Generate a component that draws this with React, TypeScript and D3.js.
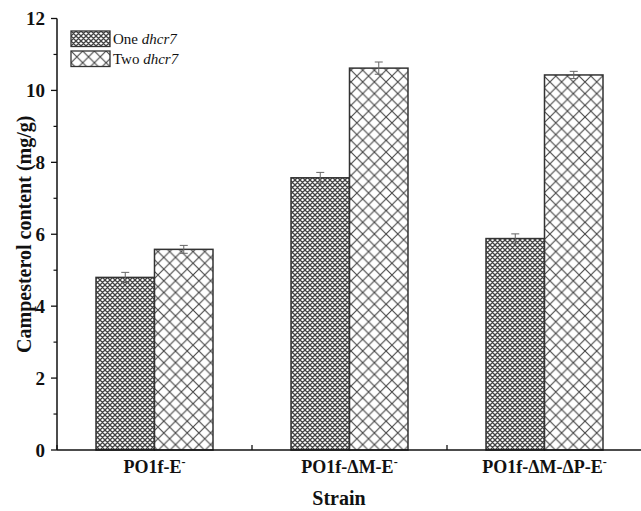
import React from "react";
import * as d3 from "d3";

// Campesterol content per strain
const strains = ["PO1f-E", "PO1f-\u0394M-E", "PO1f-\u0394M-\u0394P-E"];
const seriesNames = ["One", "Two"];
const oneValues = [4.8, 7.57, 5.88];
const oneErrors = [0.14, 0.15, 0.13];
const twoValues = [5.58, 10.62, 10.43];
const twoErrors = [0.11, 0.17, 0.1];
const yTicks = [0, 2, 4, 6, 8, 10, 12];
const yMinorTicks = [1, 3, 5, 7, 9, 11];

const W = 641;
const H = 511;
const left = 57;
const right = 642;
const top = 18.5;
const bottom = 450;
const serif = "Liberation Serif, Times New Roman, Times, DejaVu Serif, serif";

export default function App() {
  const x = d3.scaleBand<string>().domain(strains).range([left, right]).paddingInner(0.4).paddingOuter(0.2);
  const xs = d3.scaleBand<string>().domain(seriesNames).range([0, x.bandwidth()]);
  const y = d3.scaleLinear().domain([0, 12]).range([bottom, top]);

  const series = [
    { name: "One", values: oneValues, errors: oneErrors, fill: "url(#dense)" },
    { name: "Two", values: twoValues, errors: twoErrors, fill: "url(#wide)" },
  ];

  const boundaries = d3.range(strains.length + 1).map((i) => left + i * x.step());
  const txt = { fontFamily: serif, fill: "#111" } as React.CSSProperties;

  return (
    <svg width={W} height={H} style={{ position: "absolute", left: 0, top: 0, background: "#fff" }}>
      <defs>
        <pattern id="dense" patternUnits="userSpaceOnUse" width={5} height={5}>
          <rect width={5} height={5} fill="#fff" />
          <path d="M0,0L5,5M5,0L0,5M-1,4L1,6M4,-1L6,1M-1,1L1,-1M4,6L6,4" stroke="#444" strokeWidth={1.3} />
        </pattern>
        <pattern id="wide" patternUnits="userSpaceOnUse" width={11.7} height={11.7}>
          <rect width={11.7} height={11.7} fill="#fff" />
          <path d="M0,0L11.7,11.7M11.7,0L0,11.7" stroke="#444" strokeWidth={1.1} />
        </pattern>
      </defs>

      {/* bars */}
      {series.map((s) =>
        strains.map((c, i) => {
          const bx = (x(c) ?? 0) + (xs(s.name) ?? 0);
          const bw = xs.bandwidth();
          const v = s.values[i];
          const e = s.errors[i];
          const cx = bx + bw / 2;
          return (
            <g key={s.name + c}>
              <rect x={bx} y={y(v)} width={bw} height={bottom - y(v)} fill={s.fill} stroke="#333" strokeWidth={1.5} />
              <g stroke="#666" strokeWidth={1}>
                <line x1={cx} x2={cx} y1={y(v + e)} y2={y(v - e)} />
                <line x1={cx - 4} x2={cx + 4} y1={y(v + e)} y2={y(v + e)} />
                <line x1={cx - 4} x2={cx + 4} y1={y(v - e)} y2={y(v - e)} />
              </g>
            </g>
          );
        })
      )}

      {/* y axis */}
      <line x1={left} x2={left} y1={top} y2={bottom} stroke="#111" strokeWidth={1.5} />
      {yTicks.map((t) => (
        <g key={t}>
          <line x1={left - 6} x2={left} y1={y(t)} y2={y(t)} stroke="#111" strokeWidth={1.3} />
          <text x={45} y={y(t)} dy="0.35em" textAnchor="end" style={{ ...txt, fontWeight: "bold", fontSize: 19 }}>
            {t}
          </text>
        </g>
      ))}
      {yMinorTicks.map((t) => (
        <line key={t} x1={left - 3.5} x2={left} y1={y(t)} y2={y(t)} stroke="#111" strokeWidth={1.2} />
      ))}

      {/* x axis */}
      <line x1={left} x2={W} y1={bottom} y2={bottom} stroke="#111" strokeWidth={1.5} />
      {boundaries.map((b, i) => (
        <line key={i} x1={b} x2={b} y1={bottom} y2={bottom - 5} stroke="#111" strokeWidth={1.3} />
      ))}
      {strains.map((c) => (
        <text key={c} x={(x(c) ?? 0) + x.bandwidth() / 2} y={473} textAnchor="middle" style={{ ...txt, fontWeight: "bold", fontSize: 18 }}>
          {c}
          <tspan fontSize={12} dy={-7}>-</tspan>
        </text>
      ))}

      {/* axis titles */}
      <text x={(left + W) / 2 - 10} y={505} textAnchor="middle" style={{ ...txt, fontWeight: "bold", fontSize: 20 }}>
        Strain
      </text>
      <text transform={`translate(31,${(top + bottom) / 2}) rotate(-90)`} textAnchor="middle" style={{ ...txt, fontWeight: "bold", fontSize: 20 }}>
        Campesterol content (mg/g)
      </text>

      {/* legend */}
      {series.map((s, i) => (
        <g key={s.name} transform={`translate(71,${31 + i * 20})`}>
          <rect width={39} height={15.5} fill={s.fill} stroke="#333" strokeWidth={1.3} />
          <text x={42} y={13} style={{ ...txt, fontSize: 15 }}>
            {s.name} <tspan fontStyle="italic">dhcr7</tspan>
          </text>
        </g>
      ))}
    </svg>
  );
}
